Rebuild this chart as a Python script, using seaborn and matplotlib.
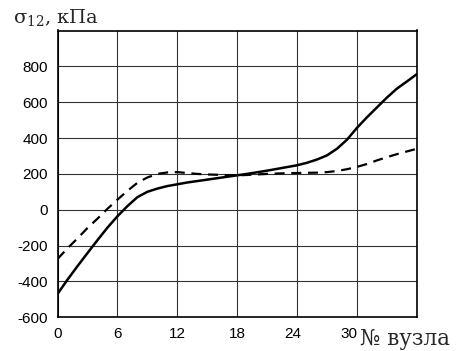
import matplotlib
matplotlib.use("Agg")
import matplotlib.pyplot as plt
import matplotlib.transforms as mtransforms
import seaborn as sns
import pandas as pd
from matplotlib.ticker import MultipleLocator

# node numbers and stress values (kPa)
nodes = list(range(37))
sigma_solid = [-470, -390, -315, -242, -170, -100, -37, 20, 70, 100,
               118, 132, 142, 152, 160, 168, 176, 184, 192, 200,
               209, 218, 228, 238, 248, 262, 280, 303, 340, 390,
               456, 515, 570, 625, 675, 715, 756]
sigma_dashed = [-275, -215, -160, -102, -50, 5, 56, 105, 150, 180,
                200, 208, 210, 205, 200, 197, 195, 193, 192, 194,
                197, 200, 202, 204, 205, 206, 207, 210, 216, 226,
                239, 255, 275, 293, 310, 325, 340]
xticks = [0, 6, 12, 18, 24, 30]
yticks = [-600, -400, -200, 0, 200, 400, 600, 800]

sns.set_style("white")
plt.rcParams['font.family'] = ['Liberation Sans', 'DejaVu Sans']
plt.rcParams['mathtext.fontset'] = 'dejavuserif'

df = pd.DataFrame({"node": nodes, "solid": sigma_solid, "dashed": sigma_dashed})

fig = plt.figure(figsize=(4.7, 3.51), dpi=100)
ax = fig.add_axes([57.5 / 470, 1 - 317.3 / 351, (416.7 - 57.5) / 470, (317.3 - 30.5) / 351])

sns.lineplot(data=df, x="node", y="solid", ax=ax, color="black", lw=1.8)
sns.lineplot(data=df, x="node", y="dashed", ax=ax, color="black", lw=1.6,
             linestyle=(0, (4.5, 3)))

ax.set_xlim(0, 36)
ax.set_ylim(-600, 1000)
ax.set_xticks(xticks + [36])
ax.set_xticklabels([str(t) for t in xticks] + [""])
ax.set_yticks(yticks + [1000])
ax.set_yticklabels([str(t) for t in yticks] + [""])
ax.xaxis.set_minor_locator(MultipleLocator(1))
ax.yaxis.set_minor_locator(MultipleLocator(50))
ax.tick_params(which="both", direction="in", labelsize=11, colors="black")
ax.tick_params(which="major", length=0, pad=7)
ax.tick_params(which="minor", length=4, width=0.8)
ax.grid(True, which="major", color="#333333", lw=0.8)
for s in ax.spines.values():
    s.set_color("black")
    s.set_linewidth(1.2)
ax.set_xlabel("")
ax.set_ylabel("")

# the last labels sit a little left of their grid lines in the original
labels = ax.get_xticklabels()
for lab, dx in zip(labels[4:6], [-4, -8]):
    lab.set_transform(lab.get_transform() +
                      mtransforms.ScaledTranslation(dx / 100, 0, fig.dpi_scale_trans))

fig.text(13 / 470, 1 - 23 / 351, r"σ$_{12}$, кПа", family="DejaVu Serif",
         fontsize=14, va="baseline", ha="left")
fig.text(360 / 470, 1 - 345 / 351, "№ вузла", family="DejaVu Serif",
         fontsize=15.5, va="baseline", ha="left")

fig.savefig("out.png", dpi=100)
